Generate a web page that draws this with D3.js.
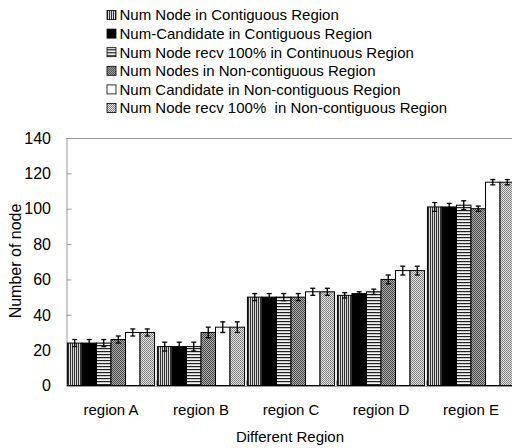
<!DOCTYPE html>
<html>
<head>
<meta charset="utf-8">
<script src="https://cdn.jsdelivr.net/npm/d3@7"></script>
<style>
  body { margin: 0; background: #fff; }
  text { font-family: "Liberation Sans", Arial, sans-serif; fill: #000; white-space: pre; }
</style>
</head>
<body>
<div id="root"></div>
<script>
// categories and series
var categories = ["region A", "region B", "region C", "region D", "region E"];
var seriesNames = [
  "Num Node in Contiguous Region",
  "Num-Candidate in Contiguous Region",
  "Num Node recv 100% in Continuous Region",
  "Num Nodes in Non-contiguous Region",
  "Num Candidate in Non-contiguous Region",
  "Num Node recv 100%  in Non-contiguous Region"
];
var nodeContig = [24, 22, 50, 51, 101];
var candContig = [24, 22, 50, 52, 101];
var recvContig = [24, 22, 50, 53, 102];
var nodeNon = [26, 30, 50, 60, 100];
var candNon = [30, 33, 53, 65, 115];
var recvNon = [30, 33, 53, 65, 115];
// error bar half-lengths
var errNodeContig = [2, 2.5, 2, 1.5, 2.5];
var errCandContig = [2, 2.5, 2, 1, 2];
var errRecvContig = [2, 2.5, 2, 1.5, 2.5];
var errNodeNon = [2, 3, 2, 2.5, 1.5];
var errCandNon = [2, 3, 2, 2.5, 1.5];
var errRecvNon = [2, 3, 2, 2.5, 1.5];
var yTicks = [0, 20, 40, 60, 80, 100, 120, 140];

var values = [nodeContig, candContig, recvContig, nodeNon, candNon, recvNon];
var errors = [errNodeContig, errCandContig, errRecvContig, errNodeNon, errCandNon, errRecvNon];
var fills = ["url(#vstripe)", "#000", "url(#hstripe)", "url(#darkcheck)", "#fff", "url(#lightcheck)"];

var w = 512, h = 448;
var plot = {left: 66, right: 516, top: 138, bottom: 385.5};

var svg = d3.select("#root").append("svg").attr("width", w).attr("height", h);

// patterns
var defs = svg.append("defs");
var p1 = defs.append("pattern").attr("id", "vstripe").attr("patternUnits", "userSpaceOnUse").attr("width", 2).attr("height", 2);
p1.append("rect").attr("width", 2).attr("height", 2).attr("fill", "#d8d8d8");
p1.append("rect").attr("width", 1).attr("height", 2).attr("fill", "#333");

var p3 = defs.append("pattern").attr("id", "hstripe").attr("patternUnits", "userSpaceOnUse").attr("width", 3).attr("height", 3);
p3.append("rect").attr("width", 3).attr("height", 3).attr("fill", "#f2f2f2");
p3.append("rect").attr("width", 3).attr("height", 1.2).attr("fill", "#222");

var p4 = defs.append("pattern").attr("id", "darkcheck").attr("patternUnits", "userSpaceOnUse").attr("width", 2).attr("height", 2);
p4.append("rect").attr("width", 2).attr("height", 2).attr("fill", "#b0b0b0");
p4.append("rect").attr("width", 1).attr("height", 1).attr("fill", "#444");
p4.append("rect").attr("x", 1).attr("y", 1).attr("width", 1).attr("height", 1).attr("fill", "#444");

var p6 = defs.append("pattern").attr("id", "lightcheck").attr("patternUnits", "userSpaceOnUse").attr("width", 2).attr("height", 2);
p6.append("rect").attr("width", 2).attr("height", 2).attr("fill", "#e4e4e4");
p6.append("rect").attr("width", 1).attr("height", 1).attr("fill", "#777");
p6.append("rect").attr("x", 1).attr("y", 1).attr("width", 1).attr("height", 1).attr("fill", "#888");

// scales
var x0 = d3.scaleBand().domain(categories).range([plot.left, plot.right]).paddingInner(0).paddingOuter(0);
var x1 = d3.scaleBand().domain(d3.range(seriesNames.length)).range([0, x0.bandwidth()]).paddingOuter(0.1);
var y = d3.scaleLinear().domain([0, 140]).range([plot.bottom, plot.top]);

// plot frame
svg.append("line").attr("x1", plot.left).attr("x2", plot.right).attr("y1", plot.top + 0.5).attr("y2", plot.top + 0.5)
  .attr("stroke", "#999").attr("stroke-width", 1);

// y axis (ticks inside)
var yAxis = d3.axisRight(y).tickValues(yTicks).tickSize(5).tickFormat("");
var gy = svg.append("g").attr("transform", "translate(" + (plot.left + 0.5) + ",0)").call(yAxis);
gy.select(".domain").attr("stroke", "#999");
gy.selectAll(".tick line").attr("stroke", "#999");
svg.append("g").selectAll("text").data(yTicks).enter().append("text")
  .attr("x", 51).attr("y", function(d) { return y(d); }).attr("dy", "0.36em")
  .attr("text-anchor", "end").style("font-size", "16px").text(function(d) { return d; });

// bars
var groups = svg.append("g").selectAll("g").data(categories).enter().append("g")
  .attr("transform", function(d) { return "translate(" + x0(d) + ",0)"; });

groups.selectAll("rect").data(function(d, i) {
  return values.map(function(s, k) { return {k: k, v: s[i], e: errors[k][i]}; });
}).enter().append("rect")
  .attr("x", function(d) { return x1(d.k); })
  .attr("y", function(d) { return y(d.v); })
  .attr("width", x1.bandwidth())
  .attr("height", function(d) { return y(0) - y(d.v); })
  .attr("fill", function(d) { return fills[d.k]; })
  .attr("stroke", "#000").attr("stroke-width", 1);

// error bars
var eb = groups.selectAll("g.err").data(function(d, i) {
  return values.map(function(s, k) { return {k: k, v: s[i], e: errors[k][i]}; });
}).enter().append("g").attr("class", "err")
  .attr("transform", function(d) { return "translate(" + (x1(d.k) + x1.bandwidth() / 2) + ",0)"; });
eb.append("line").attr("y1", function(d) { return y(d.v - d.e); }).attr("y2", function(d) { return y(d.v + d.e); })
  .attr("stroke", "#000").attr("stroke-width", 1.3);
eb.append("line").attr("x1", -2.5).attr("x2", 2.5).attr("y1", function(d) { return y(d.v + d.e); }).attr("y2", function(d) { return y(d.v + d.e); })
  .attr("stroke", "#000").attr("stroke-width", 1.3);
eb.append("line").attr("x1", -2.5).attr("x2", 2.5).attr("y1", function(d) { return y(d.v - d.e); }).attr("y2", function(d) { return y(d.v - d.e); })
  .attr("stroke", "#000").attr("stroke-width", 1.3);

// x axis
var xAxis = d3.axisTop(x0).tickSize(0).tickFormat("");
var gx = svg.append("g").attr("transform", "translate(0," + (plot.bottom + 0.5) + ")").call(xAxis);
gx.select(".domain").attr("stroke", "#999");
gx.selectAll(".tick").remove();
svg.append("g").selectAll("line").data(categories.slice(1)).enter().append("line")
  .attr("x1", function(d) { return x0(d) + 0.5; }).attr("x2", function(d) { return x0(d) + 0.5; })
  .attr("y1", plot.bottom).attr("y2", plot.bottom - 5).attr("stroke", "#999");
svg.append("g").selectAll("text").data(categories).enter().append("text")
  .attr("x", function(d) { return x0(d) + x0.bandwidth() / 2; }).attr("y", 415)
  .attr("text-anchor", "middle").style("font-size", "15px").text(function(d) { return d; });

// axis titles
svg.append("text").attr("x", 290).attr("y", 442).attr("text-anchor", "middle").style("font-size", "15px").text("Different Region");
svg.append("text").attr("transform", "translate(21,261) rotate(-90)").attr("text-anchor", "middle")
  .style("font-size", "16px").text("Number of node");

// legend
var legend = svg.append("g").selectAll("g").data(seriesNames).enter().append("g")
  .attr("transform", function(d, i) { return "translate(107," + (15 + i * 18.6) + ")"; });
legend.append("rect").attr("x", 0).attr("y", -4.5).attr("width", 9).attr("height", 9)
  .attr("fill", function(d, i) { return fills[i]; }).attr("stroke", "#000").attr("stroke-width", 0.8);
legend.append("text").attr("x", 12.5).attr("y", 0).attr("dy", "0.36em").style("font-size", "15px").text(function(d) { return d; });
</script>
</body>
</html>
